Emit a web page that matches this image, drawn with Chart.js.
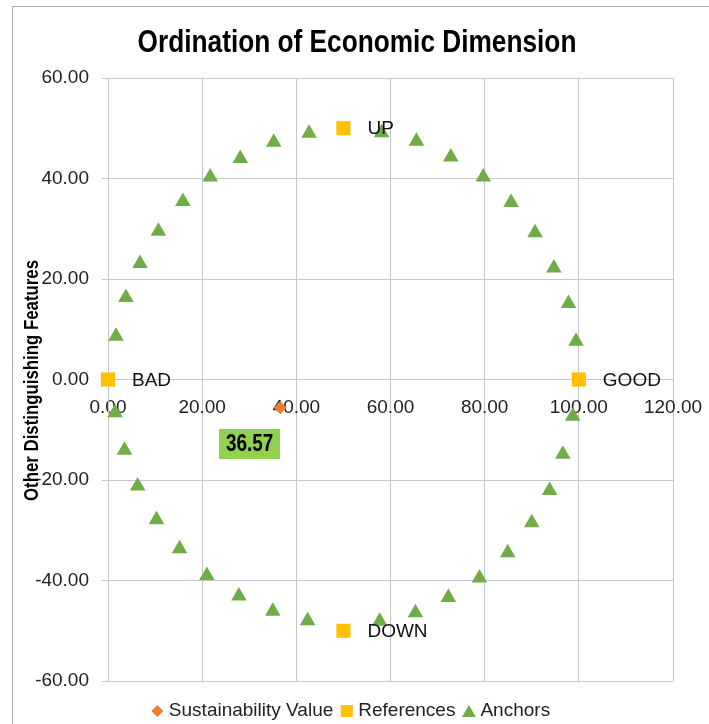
<!DOCTYPE html>
<html>
<head>
<meta charset="utf-8">
<title>Ordination of Economic Dimension</title>
<script src="https://cdn.jsdelivr.net/npm/chart.js@4.4.1/dist/chart.umd.min.js"></script>
<style>
  html, body { margin: 0; padding: 0; background: #ffffff; }
  canvas { display: block; }
</style>
</head>
<body>
<canvas id="ordination" width="709" height="724"></canvas>
<script>
// Sustainability score on the economic dimension
const sustainabilityX = [36.57];
const sustainabilityY = [-5.6];

// Reference points and their names
const referenceNames = ['BAD', 'GOOD', 'UP', 'DOWN'];
const referenceX = [0, 100, 50, 50];
const referenceY = [0, 0, 50, -50];

// Anchor points (upper arc, then lower arc)
const anchorX = [1.7, 3.8, 6.8, 10.7, 15.9, 21.7, 28.1, 35.2, 42.7, 58.1, 65.5, 72.8, 79.7, 85.6, 90.7, 94.7, 97.8, 99.4,
                 1.5, 3.5, 6.3, 10.3, 15.2, 21.0, 27.8, 35.0, 42.4, 57.7, 65.3, 72.3, 78.9, 84.9, 90.0, 93.8, 96.6, 98.7];
const anchorY = [8.6, 16.3, 23.1, 29.5, 35.4, 40.3, 44.0, 47.2, 49.0, 49.1, 47.4, 44.3, 40.3, 35.2, 29.2, 22.2, 15.1, 7.6,
                 -6.6, -14.1, -21.2, -27.9, -33.7, -39.0, -43.1, -46.1, -48.0, -48.1, -46.4, -43.4, -39.5, -34.5, -28.5, -22.1, -14.9, -7.3];

// Axis tick values
const xTicks = [0, 20, 40, 60, 80, 100, 120];
const yTicks = [-60, -40, -20, 0, 20, 40, 60];

const chartTitle = 'Ordination of Economic Dimension';
const yAxisTitle = 'Other Distinguishing Features';
const seriesNames = ['Sustainability Value', 'References', 'Anchors'];
const seriesColors = ['#ED7D31', '#FFC000', '#70AD47'];

const SANS = '"Liberation Sans", Arial, sans-serif';
const GRID = '#c6c6c6';
const TEXT = '#222222';
const CONDENSE = 0.82;   // horizontal squeeze for the condensed bold headings

const zip = (xs, ys) => xs.map((x, i) => ({ x, y: ys[i] }));

// Draws condensed text centred on (x, y), optionally rotated
function drawCondensed(ctx, text, x, y, font, rotation) {
  ctx.save();
  ctx.translate(x, y);
  if (rotation) ctx.rotate(rotation);
  ctx.scale(CONDENSE, 1);
  ctx.font = font;
  ctx.textAlign = 'center';
  ctx.textBaseline = 'middle';
  ctx.fillText(text, 0, 0);
  ctx.restore();
}

// Light frame around the chart
const framePlugin = {
  id: 'frame',
  beforeDraw(chart) {
    const ctx = chart.ctx;
    ctx.save();
    ctx.strokeStyle = '#a8a8a8';
    ctx.lineWidth = 1;
    ctx.beginPath();
    ctx.moveTo(12.5, chart.height);
    ctx.lineTo(12.5, 6.5);
    ctx.lineTo(chart.width, 6.5);
    ctx.stroke();
    ctx.restore();
  }
};

// Chart heading and vertical axis heading in condensed bold
const headingsPlugin = {
  id: 'headings',
  afterDraw(chart) {
    const ctx = chart.ctx;
    ctx.fillStyle = '#000000';
    drawCondensed(ctx, chartTitle, 357, 43, 'bold 32px ' + SANS, 0);
    const area = chart.chartArea;
    drawCondensed(ctx, yAxisTitle, 32, (area.top + area.bottom) / 2 + 1, 'bold 20.5px ' + SANS, -Math.PI / 2);
  }
};

// Names beside the reference points and the score tag
const pointLabelPlugin = {
  id: 'pointLabels',
  afterDatasetsDraw(chart) {
    const ctx = chart.ctx;
    ctx.save();
    const refMeta = chart.getDatasetMeta(1);
    ctx.font = '19px ' + SANS;
    ctx.fillStyle = '#111111';
    ctx.textAlign = 'left';
    ctx.textBaseline = 'middle';
    refMeta.data.forEach((pt, i) => {
      ctx.fillText(referenceNames[i], pt.x + 24, pt.y + 1);
    });

    const sv = chart.getDatasetMeta(0).data[0];
    const cx = sv.x - 30.5, cy = sv.y + 36;
    const w = 61, h = 30;
    ctx.fillStyle = '#92D050';
    ctx.fillRect(Math.round(cx - w / 2), Math.round(cy - h / 2), w, h);
    ctx.fillStyle = '#000000';
    drawCondensed(ctx, sustainabilityX[0].toFixed(2), cx, cy + 1, 'bold 23px ' + SANS, 0);
    ctx.restore();
  }
};

// Legend row under the plot
const legendRowPlugin = {
  id: 'legendRow',
  afterDraw(chart) {
    const ctx = chart.ctx;
    const helpers = Chart.helpers;
    ctx.save();
    ctx.font = '19px ' + SANS;
    ctx.textBaseline = 'middle';
    ctx.textAlign = 'left';
    const markW = 13, gap = 5, spacing = 7;
    const widths = seriesNames.map(n => markW + gap + ctx.measureText(n).width);
    const total = widths.reduce((a, b) => a + b, 0) + spacing * (widths.length - 1);
    let x = chart.width / 2 - total / 2 - 4;
    const y = 711;
    chart.data.datasets.forEach((ds, i) => {
      const mx = x + markW / 2;
      ctx.fillStyle = ds.backgroundColor;
      const style = ds.pointStyle;
      const r = style === 'rectRot' ? 6 : (style === 'rect' ? 8.5 : 8);
      const my = style === 'triangle' ? y + 2 : y;
      helpers.drawPoint(ctx, { pointStyle: style, radius: r, rotation: 0, borderWidth: 0 }, mx, my);
      ctx.fillStyle = TEXT;
      ctx.fillText(ds.label, x + markW + gap, y);
      x += widths[i] + spacing;
    });
    ctx.restore();
  }
};

new Chart(document.getElementById('ordination'), {
  type: 'scatter',
  data: {
    datasets: [
      {
        label: seriesNames[0],
        data: zip(sustainabilityX, sustainabilityY),
        pointStyle: 'rectRot',
        pointRadius: 6.5,
        backgroundColor: seriesColors[0],
        borderColor: seriesColors[0],
        borderWidth: 0,
        clip: false
      },
      {
        label: seriesNames[1],
        data: zip(referenceX, referenceY),
        pointStyle: 'rect',
        pointRadius: 10,
        backgroundColor: seriesColors[1],
        borderColor: seriesColors[1],
        borderWidth: 0,
        clip: false
      },
      {
        label: seriesNames[2],
        data: zip(anchorX, anchorY),
        pointStyle: 'triangle',
        pointRadius: 9,
        backgroundColor: seriesColors[2],
        borderColor: seriesColors[2],
        borderWidth: 0,
        clip: false
      }
    ]
  },
  options: {
    responsive: false,
    animation: false,
    devicePixelRatio: 1,
    layout: { padding: { left: 20, right: 36, top: 78, bottom: 43 } },
    plugins: {
      legend: { display: false },
      tooltip: { enabled: false },
      title: { display: false }
    },
    scales: {
      x: {
        type: 'linear',
        position: { y: 0 },
        min: xTicks[0],
        max: xTicks[xTicks.length - 1],
        afterBuildTicks: s => { s.ticks = xTicks.map(v => ({ value: v })); },
        // labels sit inside the plot, so no extra side room is reserved for them
        afterFit: s => { s.paddingLeft = 0; s.paddingRight = 0; },
        ticks: {
          callback: v => Number(v).toFixed(2),
          color: TEXT,
          font: { family: SANS, size: 19 },
          padding: 11,
          maxRotation: 0
        },
        grid: { color: GRID, tickLength: 6, tickColor: GRID },
        border: { color: GRID }
      },
      y: {
        type: 'linear',
        min: yTicks[0],
        max: yTicks[yTicks.length - 1],
        afterBuildTicks: s => { s.ticks = yTicks.map(v => ({ value: v })); },
        afterFit: s => { s.width = 88; },
        ticks: {
          callback: v => Number(v).toFixed(2),
          color: TEXT,
          font: { family: SANS, size: 19 },
          padding: 13
        },
        grid: { color: GRID, tickLength: 6, tickColor: GRID },
        border: { color: GRID }
      }
    }
  },
  plugins: [framePlugin, pointLabelPlugin, headingsPlugin, legendRowPlugin]
});
</script>
</body>
</html>
